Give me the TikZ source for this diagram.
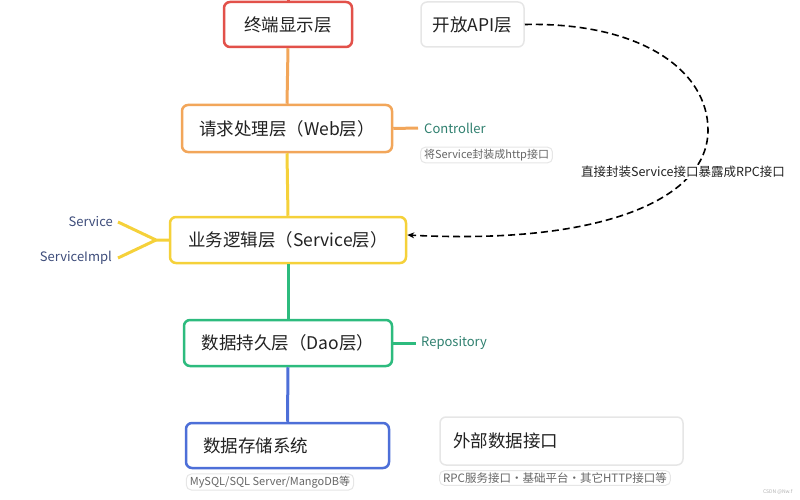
\documentclass[tikz,border=0pt]{standalone}
\usepackage{fontspec}
\setmainfont{Noto Sans CJK SC}
\usetikzlibrary{arrows.meta}
\definecolor{cred}{HTML}{E2514A}
\definecolor{corange}{HTML}{F2A65A}
\definecolor{cyellow}{HTML}{F5D13A}
\definecolor{cgreen}{HTML}{2DBB7E}
\definecolor{cblue}{HTML}{4D6FD8}
\definecolor{cgrey}{HTML}{E6E6E6}
\definecolor{ctxt}{HTML}{222222}
\definecolor{cteal}{HTML}{2E7F6E}
\definecolor{cslate}{HTML}{3D4C7A}
\definecolor{cnote}{HTML}{666666}
\tikzset{
  layer/.style={draw, line width=2.5pt, rounded corners=6pt, fill=white, text=ctxt,
    font=\fontsize{17.5}{21}\selectfont, inner sep=0pt},
  plainbox/.style={draw=cgrey, line width=1.5pt, rounded corners=6pt, fill=white, text=ctxt,
    font=\fontsize{17.5}{21}\selectfont, inner sep=0pt},
  notebox/.style={draw=cgrey, line width=1pt, rounded corners=5pt, fill=white, text=cnote,
    font=\fontsize{11}{13}\selectfont, inner xsep=3.5pt, inner ysep=2pt},
  tag/.style={font=\fontsize{13}{15}\selectfont, inner sep=0pt},
  conn/.style={line width=3pt},
}
\begin{document}
\begin{tikzpicture}[x=1pt,y=-1pt]
\useasboundingbox (0,0) rectangle (800,500);
% nodes
\node[layer, draw=cred, minimum width=128pt, minimum height=45pt] (term) at (288,24.5) {终端显示层};
\node[plainbox, minimum width=103pt, minimum height=45pt] (api) at (472.5,24.5) {开放API层};
\node[layer, draw=corange, minimum width=210pt, minimum height=47pt] (web) at (287,128.5) {请求处理层（Web层）};
\node[layer, draw=cyellow, minimum width=236pt, minimum height=46pt] (srv) at (288,240) {业务逻辑层（Service层）};
\node[layer, draw=cgreen, minimum width=208pt, minimum height=46pt] (dao) at (288,343) {数据持久层（Dao层）};
\node[layer, draw=cblue, minimum width=203pt, minimum height=45pt, inner xsep=17pt, text width=169pt, align=left] (store) at (287.5,445.5) {数据存储系统};
\node[plainbox, minimum width=243pt, minimum height=48pt, inner xsep=13pt, text width=217pt, align=left] (ext) at (561.5,441) {外部数据接口};
% notes
\node[notebox] (webnote) at (486.5,155) {将Service封装成http接口};
\node[notebox] (storenote) at (270,482) {MySQL/SQL Server/MangoDB等};
\node[notebox, font=\fontsize{11.5}{13}\selectfont] (extnote) at (555,478) {RPC服务接口・基础平台・其它HTTP接口等};
% tags
\node[tag, text=cteal, anchor=west] (ctrl) at (424,128) {Controller};
\node[tag, text=cteal, anchor=west] (repo) at (421,343) {Repository};
\node[tag, text=cslate, anchor=east] (svc) at (113,222) {Service};
\node[tag, text=cslate, anchor=east] (svcimpl) at (112,258) {ServiceImpl};
\coordinate (top) at (288,0);
\coordinate (fork) at (156,240);
% vertical connectors
\draw[conn, cred] (top) -- (term.north);
\draw[conn, corange] (term.south) -- (web.north);
\draw[conn, cyellow] (web.south) -- (srv.north);
\draw[conn, cgreen] (srv.south) -- (dao.north);
\draw[conn, cblue] (dao.south) -- (store.north);
% side connectors
\draw[conn, corange] (web.east) -- ([xshift=-6pt]ctrl.west);
\draw[conn, cgreen] (dao.east) -- ([xshift=-5pt]repo.west);
\draw[conn, cyellow, line join=round] ([xshift=5pt]svc.east) -- (fork) -- (srv.west);
\draw[conn, cyellow] ([xshift=6pt]svcimpl.east) -- (fork);
% dashed curve
\draw[line width=1.6pt, dash pattern=on 7pt off 4pt, -{Stealth[length=7pt,width=6pt]}]
  (api.east) .. controls (640,22) and (708,70) .. (708,130)
  .. controls (708,200) and (600,245) .. ([yshift=5pt]srv.east);
\node[fill=white, text=ctxt, font=\fontsize{12.5}{15}\selectfont, inner sep=1pt] (rpclabel) at (683,172) {直接封装Service接口暴露成RPC接口};
% watermark
\node[text=gray!60, font=\fontsize{5}{6}\selectfont, anchor=east] (wm) at (796,492) {CSDN @Nw.f};
\end{tikzpicture}
\end{document}
